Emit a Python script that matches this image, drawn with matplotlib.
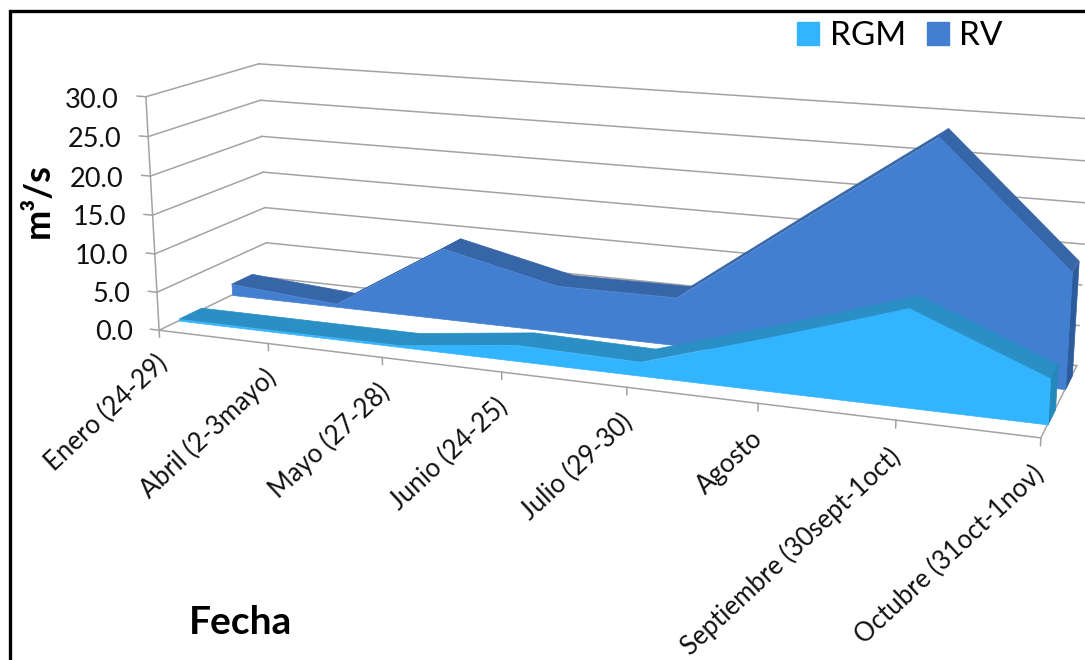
#!/usr/bin/env python3
"""3-D area chart of RGM and RV discharge by sampling date."""
import matplotlib
matplotlib.use("Agg")
import matplotlib.pyplot as plt
from matplotlib.patches import Patch, Rectangle
from mpl_toolkits.mplot3d import proj3d
from mpl_toolkits.mplot3d.art3d import Poly3DCollection

plt.rcParams["font.family"] = ["Lato", "DejaVu Sans"]

fechas = ["Enero (24-29)", "Abril (2-3mayo)", "Mayo (27-28)", "Junio (24-25)",
          "Julio (29-30)", "Agosto", "Septiembre (30sept-1oct)", "Octubre (31oct-1nov)"]
rgm = [0.2, 0.2, 0.2, 2.0, 1.7, 6.5, 11.6, 5.3]
rv = [1.5, 0.4, 9.4, 6.0, 6.1, 17.4, 28.5, 14.0]
yticks = [0, 5, 10, 15, 20, 25, 30]

W, H = 1085, 660
SIDE = 942                  # 3-D axes square, px
CX, CY = 592, 242           # where the box centre lands, px


def area(ax, vals, y0, y1, front, top, side, z):
    n = len(vals) - 1
    strips = [[(i, y0, vals[i]), (i+1, y0, vals[i+1]), (i+1, y1, vals[i+1]), (i, y1, vals[i])]
              for i in range(n)]
    wall = [[(n, y0, 0), (n, y1, 0), (n, y1, vals[n]), (n, y0, vals[n])]]
    face = [[(i, y0, v) for i, v in enumerate(vals)] + [(n, y0, 0), (0, y0, 0)]]
    for k, (verts, col) in enumerate([(strips, top), (wall, side), (face, front)]):
        coll = Poly3DCollection(verts, facecolor=col, edgecolor=col, lw=.5, zorder=z+k)
        ax.add_collection3d(coll)
        coll.set_clip_on(False)


def label(ax, x, y, z, s, **kw):
    # Text3D drops rotation, so project the anchor and place a 2-D text there
    px, py, _ = proj3d.proj_transform(x, y, z, ax.get_proj())
    ax.text2D(px, py, s, transform=ax.transData, color="#111111", **kw)


def main():
    fig = plt.figure(figsize=(W/100, H/100), dpi=100)
    ax = fig.add_axes([(CX-SIDE/2)/W, 1-(CY+SIDE/2)/H, SIDE/W, SIDE/H], projection="3d")
    ax.set_proj_type("persp", focal_length=0.39)
    ax.set_box_aspect((863, 210, 234))
    ax.view_init(elev=14, azim=-69, roll=0)
    ax.set_xlim(0, 7, view_margin=0)
    ax.set_ylim(0, 1, view_margin=0)
    ax.set_zlim(0, 30, view_margin=0)
    ax.set_axis_off()
    ax.computed_zorder = False

    grey = "#a3a3a3"
    line = dict(color=grey, lw=1.1, zorder=1, clip_on=False)
    for t in yticks:
        ax.plot([-.08, 0], [0, 0], [t, t], **line)
        ax.plot([0, 0], [0, 1], [t, t], **line)
        ax.plot([0, 7], [1, 1], [t, t], **line)
        label(ax, -.25, 0, t-.7, "%.1f" % t, ha="right", va="center", fontsize=19.5)
    ax.plot([0, 0], [0, 0], [0, 30], **line)
    ax.plot([0, 7], [0, 0], [0, 0], **line)
    ax.plot([7, 7], [0, 1], [0, 0], **line)
    for i, lab in enumerate(fechas):
        ax.plot([i, i], [0, 0], [0, -.9], **line)
        label(ax, i-.05, 0, -2.8, lab, ha="right", va="top", rotation=43,
              rotation_mode="anchor", fontsize=18.5)

    area(ax, rv, .65, .85, "#437fd0", "#3666a8", "#2c5c9c", 5)
    area(ax, rgm, .17, .37, "#33b4ff", "#2a8fc4", "#2389bb", 10)

    fig.text(38/W, 1-201/H, "m³/s", rotation=90, ha="center", va="center",
             fontsize=26, fontweight="bold")
    fig.text(241/W, 1-622/H, "Fecha", ha="center", va="center", fontsize=28, fontweight="bold")
    fig.legend(handles=[Patch(color="#33b4ff", label="RGM"), Patch(color="#437fd0", label="RV")],
               loc="upper right", bbox_to_anchor=(1033/W, 1+9/H), ncol=2, frameon=False,
               fontsize=24, handlelength=.66, handleheight=.66, handletextpad=.33, columnspacing=.62)
    fig.add_artist(Rectangle((10/W, -.1), 1.2, 1.1-11/H, transform=fig.transFigure,
                             fill=False, ec="black", lw=2.4))
    fig.savefig("out.png", dpi=100)


if __name__ == "__main__":
    main()
